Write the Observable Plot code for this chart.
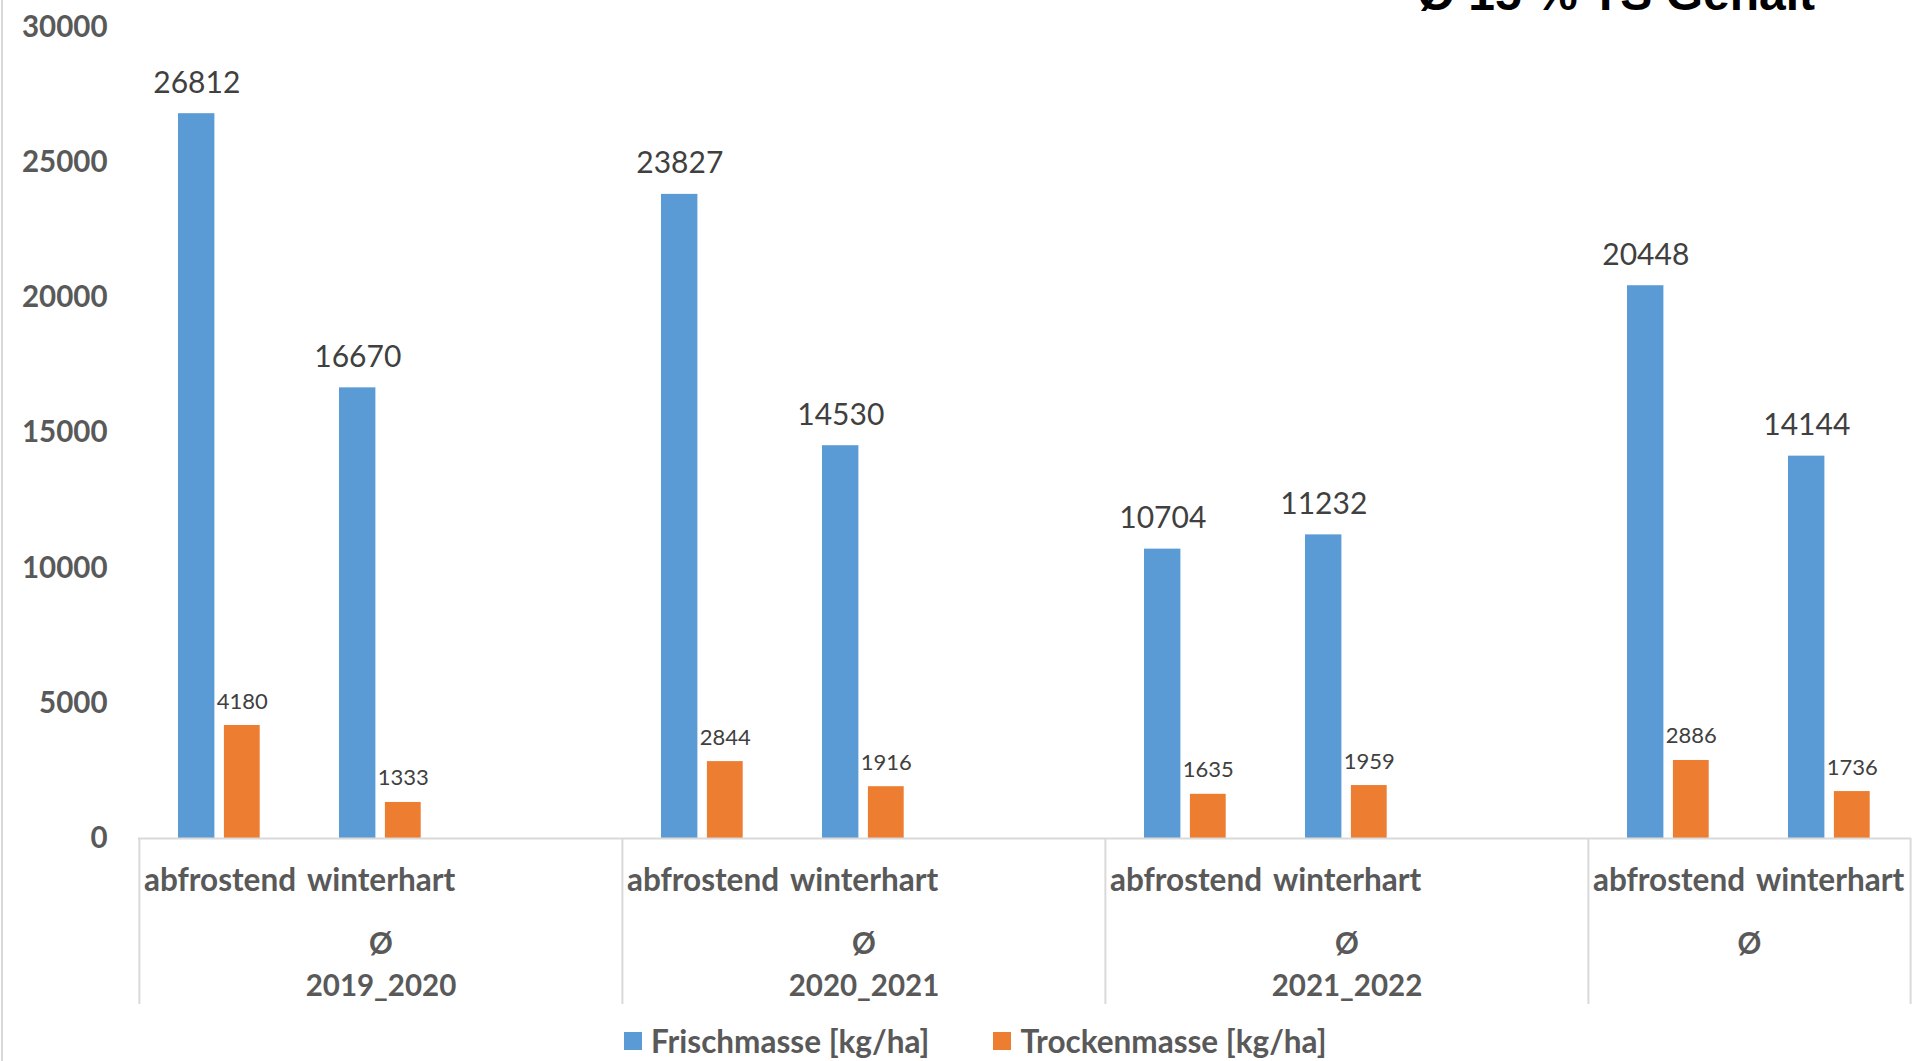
<!DOCTYPE html>
<html>
<head>
<meta charset="utf-8">
<script src="https://cdn.jsdelivr.net/npm/d3@7"></script>
<script src="https://cdn.jsdelivr.net/npm/@observablehq/plot@0.6"></script>
<style>
  html, body { margin: 0; padding: 0; background: #fff; overflow: hidden; width: 1915px; height: 1061px; }
  #wrap { position: relative; width: 1915px; height: 1061px; overflow: hidden; }
  #border { position: absolute; left: 1px; top: 0; width: 2px; height: 1061px; background: #d9d9d9; }
  #chart { position: absolute; left: 0; top: 0; }
  #title { position: absolute; right: 100px; top: -30px; font: bold 48px "Liberation Sans", Arial, sans-serif; line-height: 48px; color: #000; white-space: nowrap; }
  #legend { position: absolute; left: 624px; top: 1021px; display: flex; align-items: center; font: bold 31.5px Lato, sans-serif; color: #595959; white-space: nowrap; height: 40px; }
  .item { display: flex; align-items: center; margin-right: 64px; }
  .sw { width: 18px; height: 18px; margin-right: 9px; }
</style>
</head>
<body>
<div id="wrap">
  <div id="border"></div>
  <div id="chart"></div>
  <div id="title">Ø 15 % TS Gehalt</div>
  <div id="legend"></div>
</div>
<script>
// ---- data ----
const groups = ["2019_2020", "2020_2021", "2021_2022", "Ø"];
const groupLabels = ["Ø\n2019_2020", "Ø\n2020_2021", "Ø\n2021_2022", "Ø"];
const subTypes = ["abfrostend", "winterhart"];
const seriesNames = ["Frischmasse [kg/ha]", "Trockenmasse [kg/ha]"];
const seriesColors = ["#5B9BD5", "#ED7D31"];
const frischAbfrostend = [26812, 23827, 10704, 20448];
const frischWinterhart = [16670, 14530, 11232, 14144];
const trockenAbfrostend = [4180, 2844, 1635, 2886];
const trockenWinterhart = [1333, 1916, 1959, 1736];
const yTicks = [0, 5000, 10000, 15000, 20000, 25000, 30000];

// ---- build slots & rows ----
const slotKeys = [];
const slotLabel = new Map();
groups.forEach((g, gi) => {
  const subs = gi < groups.length - 1 ? [...subTypes, ""] : [...subTypes];
  subs.forEach((s, si) => {
    const k = g + "|" + (s || ("_" + si));
    slotKeys.push(k);
    slotLabel.set(k, s);
  });
});
const keyOf = (g, s) => g + "|" + s;
const frischRows = [], trockenRows = [];
groups.forEach((g, i) => {
  frischRows.push({key: keyOf(g, subTypes[0]), value: frischAbfrostend[i]});
  frischRows.push({key: keyOf(g, subTypes[1]), value: frischWinterhart[i]});
  trockenRows.push({key: keyOf(g, subTypes[0]), value: trockenAbfrostend[i]});
  trockenRows.push({key: keyOf(g, subTypes[1]), value: trockenWinterhart[i]});
});

// group label rows: centre slot (odd count) or boundary between middle slots (even count)
const oddGroups = [], evenGroups = [];
groups.forEach((g, gi) => {
  const keys = slotKeys.filter(k => k.startsWith(g + "|"));
  const row = {label: groupLabels[gi], key: keys[Math.floor(keys.length / 2)]};
  (keys.length % 2 ? oddGroups : evenGroups).push(row);
});
const groupStarts = groups.map(g => slotKeys.find(k => k.startsWith(g + "|")));
const lastKey = [slotKeys[slotKeys.length - 1]];

// ---- layout ----
const W = 1915, H = 1010, mL = 138, mR = 4, mT = 27, mB = 172;
const bw = (W - mL - mR) / slotKeys.length;
const FONT = "Lato, sans-serif";

const chart = Plot.plot({
  width: W, height: H,
  marginLeft: mL, marginRight: mR, marginTop: mT, marginBottom: mB,
  style: {fontFamily: FONT, color: "#595959", background: "transparent"},
  x: {type: "band", domain: slotKeys, padding: 0},
  y: {domain: [0, 30000]},
  marks: [
    Plot.barY(frischRows, {x: "key", y: "value", fill: seriesColors[0], insetLeft: 39, insetRight: 85.6}),
    Plot.barY(trockenRows, {x: "key", y: "value", fill: seriesColors[1], insetLeft: 84.9, insetRight: 40.3}),
    Plot.ruleY([0], {stroke: "#d9d9d9", strokeWidth: 2}),
    Plot.ruleX(groupStarts, {x: d => d, dx: -bw / 2, y1: 0, y2: 0, insetBottom: -166, stroke: "#d9d9d9", strokeWidth: 2}),
    Plot.ruleX(lastKey, {x: d => d, dx: bw / 2, y1: 0, y2: 0, insetBottom: -166, stroke: "#d9d9d9", strokeWidth: 2}),
    Plot.text(frischRows, {x: "key", y: "value", text: d => String(d.value), dx: -23.2, dy: -21, lineAnchor: "bottom", fontSize: 30, fill: "#404040", fontFamily: FONT}),
    Plot.text(trockenRows, {x: "key", y: "value", text: d => String(d.value), dx: 22.3, dy: -17, lineAnchor: "bottom", fontSize: 22, fill: "#404040", fontFamily: FONT}),
    Plot.axisY({ticks: yTicks, tickSize: 0, tickPadding: 31, fontSize: 29.5, fontWeight: "bold", label: null, tickFormat: d => String(d)}),
    Plot.axisX({tickSize: 0, tickPadding: 30, fontSize: 31.5, fontWeight: "bold", label: null, tickFormat: k => slotLabel.get(k)}),
    Plot.text(oddGroups, {x: "key", frameAnchor: "bottom", text: "label", lineAnchor: "top", dy: 86, lineHeight: 1.42, fontSize: 29.5, fontWeight: "bold", fill: "#595959"}),
    Plot.text(evenGroups, {x: "key", frameAnchor: "bottom", text: "label", lineAnchor: "top", dy: 86, dx: -bw / 2, lineHeight: 1.42, fontSize: 29.5, fontWeight: "bold", fill: "#595959"})
  ]
});
document.getElementById("chart").appendChild(chart);

// ---- legend ----
const legend = document.getElementById("legend");
seriesNames.forEach((n, i) => {
  const it = document.createElement("div");
  it.className = "item";
  const sw = document.createElement("div");
  sw.className = "sw";
  sw.style.background = seriesColors[i];
  const t = document.createElement("span");
  t.textContent = n;
  it.appendChild(sw); it.appendChild(t);
  legend.appendChild(it);
});
</script>
</body>
</html>
